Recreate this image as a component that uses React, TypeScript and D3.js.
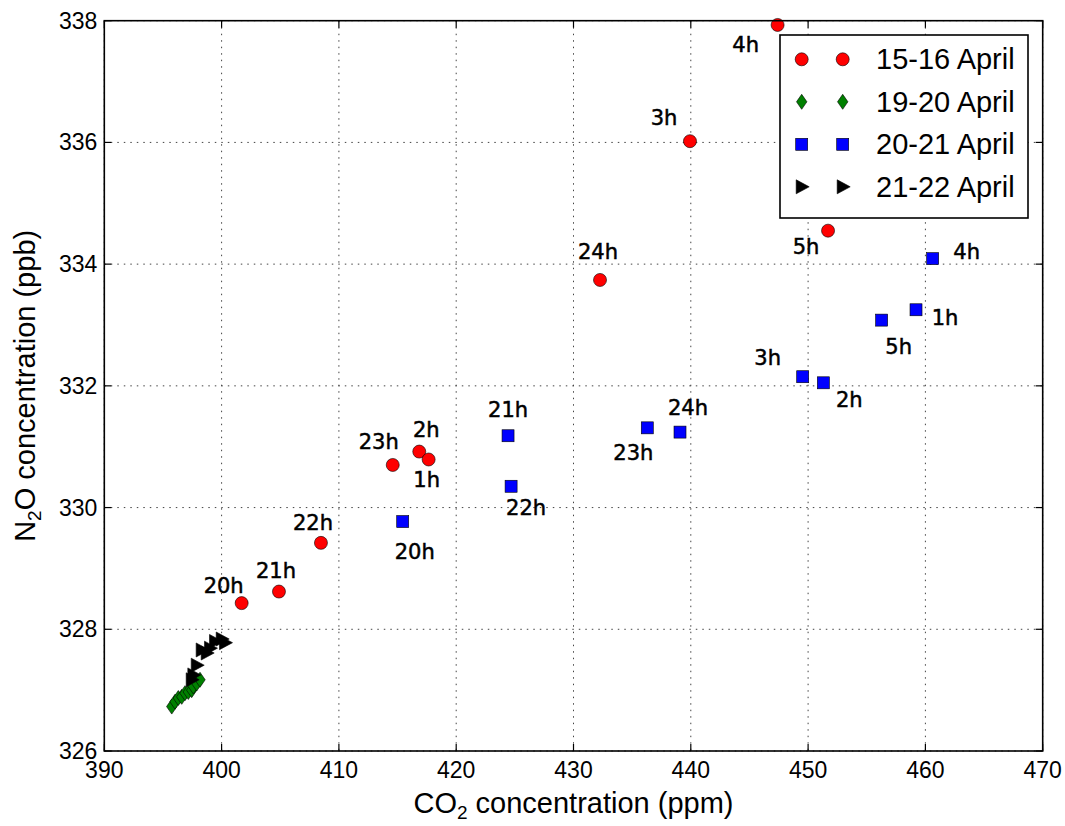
import React from "react";
import * as d3 from "d3";

// CO2 (ppm) vs N2O (ppb), hourly samples for four night periods
const redCo2 = [401.71, 404.89, 408.47, 414.59, 416.85, 417.65, 432.26, 439.93, 447.4, 451.7];
const redN2o = [328.43, 328.62, 329.42, 330.7, 330.92, 330.79, 333.74, 336.02, 337.93, 334.55];
const redHours = ["20h", "21h", "22h", "23h", "2h", "1h", "24h", "3h", "4h", "5h"];

const greenCo2 = [395.75, 396.03, 396.31, 396.6, 396.88, 397.16, 397.45, 397.59, 397.88, 398.16];
const greenN2o = [326.73, 326.81, 326.87, 326.89, 326.95, 326.97, 327.0, 327.06, 327.11, 327.17];

const blueCo2 = [415.44, 424.42, 424.68, 436.29, 439.08, 449.54, 451.3, 456.27, 459.2, 460.62];
const blueN2o = [329.77, 331.18, 330.35, 331.31, 331.24, 332.15, 332.05, 333.08, 333.25, 334.09];
const blueHours = ["20h", "21h", "22h", "23h", "24h", "3h", "2h", "5h", "1h", "4h"];

const blackCo2 = [397.45, 397.59, 397.88, 398.3, 398.73, 399.01, 399.44, 400.01, 400.29];
const blackN2o = [327.17, 327.25, 327.41, 327.66, 327.61, 327.69, 327.8, 327.84, 327.78];

const legendLabels = ["15-16 April", "19-20 April", "20-21 April", "21-22 April"];
const xTicks = [390, 400, 410, 420, 430, 440, 450, 460, 470];
const yTicks = [326, 328, 330, 332, 334, 336, 338];

// annotation offsets (like xytext in offset points)
const redLabelOffsets = [[-18, -17], [-3, -21], [-8, -20], [-14, -23], [7, -22], [-2, 21], [-2, -28], [-26, -23], [-32, 20], [-22, 16]];
const blueLabelOffsets = [[12, 30], [0, -26], [15, 22], [-14, 25], [8, -24], [-35, -19], [26, 17], [17, 27], [29, 8], [34, -7]];

const W = 1065;
const H = 826;
const left = 104.3, right = 1042.7, top = 20.7, bottom = 751;

const tickFont = "'Liberation Sans', Arial, sans-serif";
const annFont = "'DejaVu Sans', sans-serif";

type Kind = "circle" | "diamond" | "square" | "tri";

function Marker({ kind, x, y }: { kind: Kind; x: number; y: number }) {
  if (kind === "circle")
    return <circle cx={x} cy={y} r={6.5} fill="#ff0000" stroke="#000" strokeWidth={0.6} />;
  if (kind === "square")
    return <rect x={x - 6} y={y - 6} width={12} height={12} fill="#0000ff" stroke="#000" strokeWidth={0.6} />;
  if (kind === "diamond")
    return (
      <path d={`M${x},${y - 7.5}L${x + 5.2},${y}L${x},${y + 7.5}L${x - 5.2},${y}Z`}
        fill="#008000" stroke="#000" strokeWidth={0.6} />
    );
  return (
    <path d={`M${x + 7.5},${y}L${x - 5.5},${y - 7}L${x - 5.5},${y + 7}Z`}
      fill="#000" stroke="#000" strokeWidth={0.6} />
  );
}

export default function App() {
  const x = d3.scaleLinear().domain([390, 470]).range([left, right]);
  const y = d3.scaleLinear().domain([326, 338]).range([bottom, top]);

  const series: { kind: Kind; xs: number[]; ys: number[] }[] = [
    { kind: "circle", xs: redCo2, ys: redN2o },
    { kind: "diamond", xs: greenCo2, ys: greenN2o },
    { kind: "square", xs: blueCo2, ys: blueN2o },
    { kind: "tri", xs: blackCo2, ys: blackN2o },
  ];

  const tickLen = 7;
  const legX = 780, legY = 35, legW = 248, legH = 183;
  const rowGap = 42.5;

  return (
    <svg width={W} height={H} style={{ position: "absolute", left: 0, top: 0, background: "#fff" }}>
      <rect width={W} height={H} fill="#fff" />
      {/* grid */}
      <g stroke="#444" strokeWidth={1} strokeDasharray="1.5,5">
        {xTicks.map(t => (
          <line key={"gx" + t} x1={x(t)} x2={x(t)} y1={top} y2={bottom} />
        ))}
        {yTicks.map(t => (
          <line key={"gy" + t} x1={left} x2={right} y1={y(t)} y2={y(t)} />
        ))}
      </g>
      {/* ticks, inward on all sides */}
      <g stroke="#000" strokeWidth={1.2}>
        {xTicks.map(t => (
          <g key={"tx" + t}>
            <line x1={x(t)} x2={x(t)} y1={bottom} y2={bottom - tickLen} />
            <line x1={x(t)} x2={x(t)} y1={top} y2={top + tickLen} />
          </g>
        ))}
        {yTicks.map(t => (
          <g key={"ty" + t}>
            <line x1={left} x2={left + tickLen} y1={y(t)} y2={y(t)} />
            <line x1={right} x2={right - tickLen} y1={y(t)} y2={y(t)} />
          </g>
        ))}
      </g>
      {/* markers */}
      {series.map(s => (
        <g key={s.kind}>
          {s.xs.map((v, i) => (
            <Marker key={i} kind={s.kind} x={x(v)} y={y(s.ys[i])} />
          ))}
        </g>
      ))}
      {/* hour annotations */}
      <g fontFamily={annFont} fontSize={21} fill="#000" stroke="#000" strokeWidth={0.5} textAnchor="middle" dominantBaseline="central">
        {redHours.map((h, i) => (
          <text key={"r" + i} x={x(redCo2[i]) + redLabelOffsets[i][0]} y={y(redN2o[i]) + redLabelOffsets[i][1]}>{h}</text>
        ))}
        {blueHours.map((h, i) => (
          <text key={"b" + i} x={x(blueCo2[i]) + blueLabelOffsets[i][0]} y={y(blueN2o[i]) + blueLabelOffsets[i][1]}>{h}</text>
        ))}
      </g>
      {/* frame */}
      <rect x={left} y={top} width={right - left} height={bottom - top} fill="none" stroke="#000" strokeWidth={1.6} />
      {/* tick labels */}
      <g fontFamily={tickFont} fontSize={23} fill="#000">
        {xTicks.map(t => (
          <text key={"lx" + t} x={x(t)} y={bottom + 27} textAnchor="middle">{t}</text>
        ))}
        {yTicks.map(t => (
          <text key={"ly" + t} x={left - 7} y={y(t)} textAnchor="end" dominantBaseline="central">{t}</text>
        ))}
      </g>
      {/* axis labels */}
      <text x={(left + right) / 2} y={813} textAnchor="middle" fontFamily={tickFont} fontSize={29}>
        CO<tspan fontSize={19} dy={6}>2</tspan><tspan dy={-6}> concentration (ppm)</tspan>
      </text>
      <text transform={`translate(35,${(top + bottom) / 2}) rotate(-90)`} textAnchor="middle" fontFamily={tickFont} fontSize={29}>
        N<tspan fontSize={19} dy={6}>2</tspan><tspan dy={-6}>O concentration (ppb)</tspan>
      </text>
      {/* legend */}
      <rect x={legX} y={legY} width={legW} height={legH} fill="#fff" stroke="#000" strokeWidth={1.6} />
      {series.map((s, i) => {
        const cy = legY + 24.3 + i * rowGap;
        return (
          <g key={"leg" + i}>
            <Marker kind={s.kind} x={801.7} y={cy} />
            <Marker kind={s.kind} x={842.7} y={cy} />
            <text x={876} y={cy} dominantBaseline="central" fontFamily={tickFont} fontSize={29}>{legendLabels[i]}</text>
          </g>
        );
      })}
    </svg>
  );
}
